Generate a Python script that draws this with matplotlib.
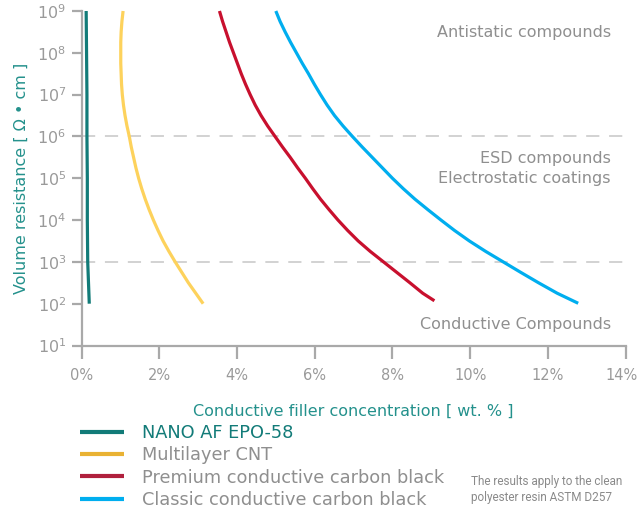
import matplotlib
matplotlib.use('Agg')
import matplotlib.pyplot as plt
from matplotlib.ticker import NullLocator
from matplotlib.transforms import ScaledTranslation

plt.rcParams['font.family'] = ['DejaVu Sans']
plt.rcParams['mathtext.default'] = 'regular'
plt.rcParams['lines.scale_dashes'] = False

# Odczytane punkty krzywych: stężenie [wt. %] przy kolejnych poziomach log10(rezystywność)
levels = [9.0, 8.75, 8.5, 8.25, 8.0, 7.75, 7.5, 7.25, 7.0, 6.75, 6.5, 6.25, 6.0, 5.75, 5.5,
          5.25, 5.0, 4.75, 4.5, 4.25, 4.0, 3.75, 3.5, 3.25, 3.0, 2.75, 2.5, 2.25]

nano_x = [0.12, 0.13, 0.14, 0.14, 0.15, 0.15, 0.16, 0.18, 0.20]
nano_log = [9.0, 8.0, 7.0, 6.0, 5.0, 4.0, 3.0, 2.5, 2.0]

cnt_x = [1.07, 1.04, 1.02, 1.01, 1.01, 1.01, 1.02, 1.03, 1.05, 1.08, 1.12, 1.17, 1.23, 1.28, 1.34,
         1.40, 1.47, 1.55, 1.64, 1.74, 1.85, 1.97, 2.10, 2.25, 2.41, 2.58, 2.75, 2.94, 3.13]
cnt_log = levels + [2.0]

premium_x = [3.55, 3.63, 3.72, 3.81, 3.91, 4.01, 4.11, 4.22, 4.34, 4.47, 4.62, 4.79, 4.98, 5.17, 5.37,
             5.56, 5.76, 5.95, 6.15, 6.37, 6.60, 6.85, 7.12, 7.43, 7.77, 8.11, 8.45, 8.78, 9.08]
premium_log = levels + [2.07]

classic_x = [5.00, 5.11, 5.24, 5.38, 5.53, 5.68, 5.84, 5.99, 6.15, 6.32, 6.51, 6.73, 6.97, 7.22, 7.48,
             7.74, 8.00, 8.28, 8.58, 8.91, 9.25, 9.60, 9.98, 10.40, 10.85, 11.30, 11.76, 12.24, 12.78]
classic_log = levels + [2.01]

x_ticks = [0, 2, 4, 6, 8, 10, 12, 14]
y_ticks = [1e1, 1e2, 1e3, 1e4, 1e5, 1e6, 1e7, 1e8, 1e9]
y_labels = ['$10^{%d}$' % i for i in range(1, 10)]
thresholds = [1e6, 1e3]

labels = ['NANO AF EPO-58', 'Multilayer CNT', 'Premium conductive carbon black',
          'Classic conductive carbon black']

teal = '#127b78'
gray = '#8f8f8f'
axis_gray = '#a9a9a9'

fig = plt.figure(figsize=(6.4, 5.08), dpi=100)
ax = fig.add_axes([81.5 / 640, 1 - 345.5 / 508, (625.6 - 81.5) / 640, (345.5 - 11) / 508])

# Linie progowe
for t in thresholds:
    ax.axhline(t, color='#cbcbcb', lw=1.2, dashes=(9.5, 7))

# Krzywe (na wykresie kolory jaśniejsze niż w legendzie)
curves = [(nano_x, nano_log, teal), (cnt_x, cnt_log, '#fdd25c'),
          (premium_x, premium_log, '#c8102e'), (classic_x, classic_log, '#00aeef')]
for xs, logs, c in curves:
    ax.plot(xs, [10 ** v for v in logs], color=c, lw=2.3, clip_on=False,
            solid_joinstyle='round', solid_capstyle='butt')

ax.set_yscale('log')
ax.set_xlim(0, 14)
ax.set_ylim(10, 1e9)
ax.yaxis.set_minor_locator(NullLocator())
ax.set_yticks(y_ticks)
ax.set_yticklabels(y_labels)
ax.set_xticks(x_ticks)
ax.set_xticklabels([f'{v}%' for v in x_ticks])

for s in ['top', 'right']:
    ax.spines[s].set_visible(False)
for s in ['left', 'bottom']:
    ax.spines[s].set_color(axis_gray)
    ax.spines[s].set_linewidth(1.6)

ax.tick_params(axis='x', length=9.5, width=1.6, color=axis_gray, pad=7,
               labelsize=10.5, labelcolor='#9a9a9a')
ax.tick_params(axis='y', length=7, width=1.6, color=axis_gray, pad=4,
               labelsize=11.5, labelcolor='#9a9a9a')

# ostatnia etykieta lekko w lewo, żeby nie wychodziła poza obraz
last = ax.get_xticklabels()[-1]
last.set_transform(last.get_transform() + ScaledTranslation(-4 / 100, 0, fig.dpi_scale_trans))

ax.set_xlabel('Conductive filler concentration [ wt. % ]', color='#24918c', fontsize=11.5, labelpad=15)
ax.set_ylabel('Volume resistance [ Ω • cm ]', color='#24918c', fontsize=11.5, labelpad=6)

# Opisy obszarów
ax.text(13.62, 10**8.48, 'Antistatic compounds', ha='right', va='center', color=gray, fontsize=11.5)
ax.text(13.62, 10**5.47, 'ESD compounds', ha='right', va='center', color=gray, fontsize=11.5)
ax.text(13.62, 10**5.0, 'Electrostatic coatings', ha='right', va='center', color=gray, fontsize=11.5)
ax.text(13.62, 10**1.51, 'Conductive Compounds', ha='right', va='center', color=gray, fontsize=11.5)

# Legenda
legend_colors = [teal, '#e9b233', '#b0203d', '#00aeef']
handles = [plt.Line2D([], [], color=c, lw=3, solid_capstyle='butt') for c in legend_colors]
leg = fig.legend(handles, labels, loc='upper left', bbox_to_anchor=(80 / 640, 1 - 424 / 508),
                 frameon=False, fontsize=12.8, handlelength=2.45, handletextpad=1.05,
                 labelspacing=0.24, borderpad=0, borderaxespad=0)
for i, txt in enumerate(leg.get_texts()):
    txt.set_color(teal if i == 0 else gray)

fig.text(471 / 640, 1 - 481 / 508, 'The results apply to the clean', fontsize=8.5,
         color='#8a8a8a', va='center', family=['Roboto', 'DejaVu Sans'])
fig.text(471 / 640, 1 - 498 / 508, 'polyester resin ASTM D257', fontsize=8.5,
         color='#8a8a8a', va='center', family=['Roboto', 'DejaVu Sans'])

fig.savefig('out.png', dpi=100)
